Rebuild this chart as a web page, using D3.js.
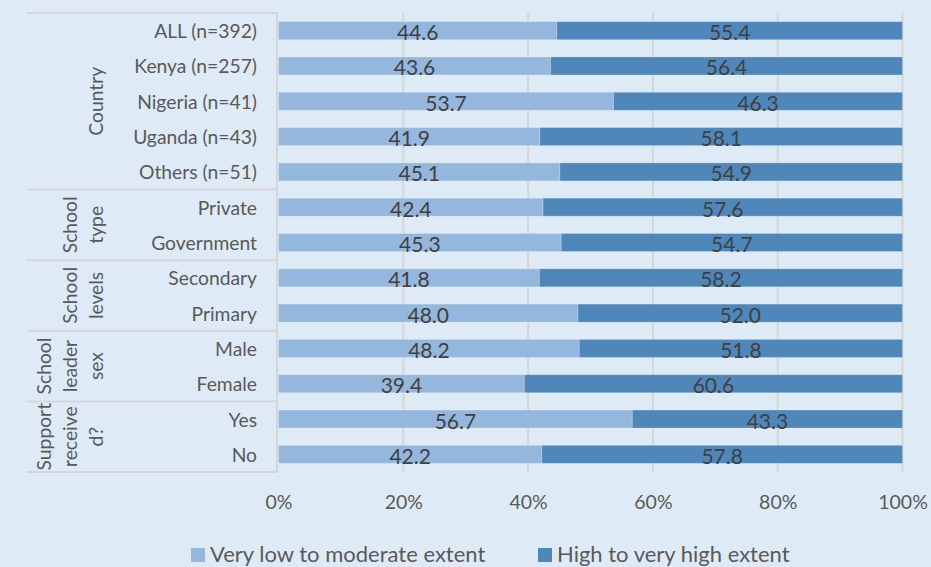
<!DOCTYPE html>
<html><head><meta charset="utf-8">
<script src="https://cdn.jsdelivr.net/npm/d3@7"></script>
<style>html,body{margin:0;padding:0;background:#deebf6;}svg{display:block;}</style>
</head><body>
<svg id="chart" width="931" height="567"></svg>
<script>
const categories = ["ALL (n=392)","Kenya (n=257)","Nigeria (n=41)","Uganda (n=43)","Others (n=51)","Private","Government","Secondary","Primary","Male","Female","Yes","No"];
const lowValues  = [44.6,43.6,53.7,41.9,45.1,42.4,45.3,41.8,48.0,48.2,39.4,56.7,42.2];
const highValues = [55.4,56.4,46.3,58.1,54.9,57.6,54.7,58.2,52.0,51.8,60.6,43.3,57.8];
const groups = [
  {lines:["Country"], start:0, end:4},
  {lines:["School","type"], start:5, end:6},
  {lines:["School","levels"], start:7, end:8},
  {lines:["School","leader","sex"], start:9, end:10},
  {lines:["Support","receive","d?"], start:11, end:12}
];
const seriesNames = ["Very low to moderate extent","High to very high extent"];
const tickValues = [0,20,40,60,80,100];

const colors = ["#95b7de","#4f87bb"];
const font = "Lato, 'Open Sans', sans-serif";
const svg = d3.select("#chart");
const W = 931, H = 567;
svg.append("rect").attr("width",W).attr("height",H).attr("fill","#deebf6");

const x = d3.scaleLinear().domain([0,100]).range([278.5,902.5]);
const y = d3.scaleBand().domain(d3.range(categories.length)).range([13,472]).paddingInner(0.49).paddingOuter(0.245);

// gridlines
svg.append("g").selectAll("line").data(tickValues.slice(1)).join("line")
  .attr("x1",d=>x(d)).attr("x2",d=>x(d)).attr("y1",13).attr("y2",472)
  .attr("stroke","#d6d6d6").attr("stroke-width",2);

// stacked bars
const data = categories.map((c,i)=>({c,i,low:lowValues[i],high:highValues[i]}));
const stack = d3.stack().keys(["low","high"])(data);
const gBars = svg.append("g");
stack.forEach((s,k)=>{
  gBars.append("g").selectAll("rect").data(s).join("rect")
    .attr("x",d=>x(d[0])).attr("width",d=>x(d[1])-x(d[0]))
    .attr("y",(d,i)=>y(i)).attr("height",y.bandwidth())
    .attr("fill",colors[k]).attr("stroke","rgba(255,255,255,0.2)").attr("stroke-width",1);
  gBars.append("g").selectAll("text").data(s).join("text")
    .attr("x",d=>(x(d[0])+x(d[1]))/2).attr("y",(d,i)=>y(i)+y.bandwidth()/2+1)
    .attr("text-anchor","middle").attr("dominant-baseline","central")
    .attr("font-family",font).attr("font-size",21).attr("fill","#404040")
    .text(d=>(d[1]-d[0]).toFixed(1));
});

// category axis line and separators
const rowStep = y.step();
const bound = k => 13 + rowStep*k;
svg.append("line").attr("x1",277).attr("x2",277).attr("y1",13).attr("y2",472)
  .attr("stroke","#d6d6d6").attr("stroke-width",2);
const seps = [0].concat(groups.map(g=>g.end+1));
svg.append("g").selectAll("line").data(seps).join("line")
  .attr("x1",27).attr("x2",278).attr("y1",d=>bound(d)).attr("y2",d=>bound(d))
  .attr("stroke","#d6d6d6").attr("stroke-width",2);

// category labels
svg.append("g").selectAll("text").data(categories).join("text")
  .attr("x",257).attr("y",(d,i)=>y(i)+y.bandwidth()/2)
  .attr("text-anchor","end").attr("dominant-baseline","central")
  .attr("font-family",font).attr("font-size",19.3).attr("fill","#595959")
  .text(d=>d);

// group labels (rotated)
groups.forEach(g=>{
  const yc = (bound(g.start)+bound(g.end+1))/2;
  const n = g.lines.length;
  g.lines.forEach((ln,j)=>{
    const xc = 95 - (n-1-j)*26;
    svg.append("text").attr("transform",`translate(${xc},${yc}) rotate(-90)`)
      .attr("text-anchor","middle").attr("dominant-baseline","central")
      .attr("font-family",font).attr("font-size",19.3).attr("fill","#595959")
      .text(ln);
  });
});

// x axis tick labels
const xAxis = d3.axisBottom(x).tickValues(tickValues).tickFormat(d=>d+"%").tickSize(0);
const ax = svg.append("g").attr("transform","translate(0,492)").call(xAxis);
ax.select(".domain").remove();
ax.selectAll("text").attr("font-family",font).attr("font-size",19.5).attr("fill","#595959");

// legend
const legendX = [191, 538];
seriesNames.forEach((s,k)=>{
  svg.append("rect").attr("x",legendX[k]).attr("y",548).attr("width",14).attr("height",14).attr("fill",colors[k]);
  svg.append("text").attr("x",legendX[k]+19).attr("y",553).attr("dominant-baseline","central")
    .attr("font-family",font).attr("font-size",22).attr("fill","#595959").text(s);
});
</script>
</body></html>
